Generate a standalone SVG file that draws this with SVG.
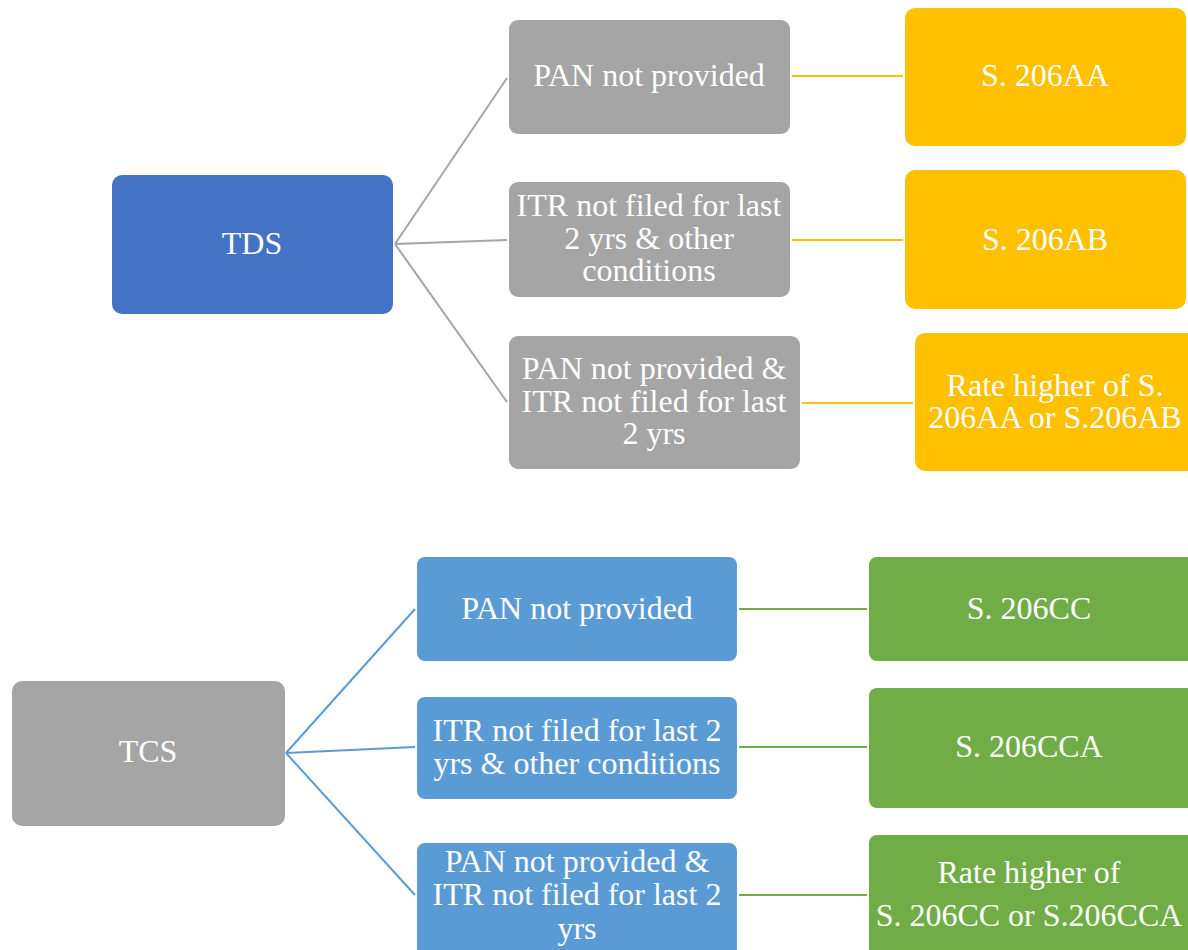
<svg xmlns="http://www.w3.org/2000/svg" width="1188" height="950" viewBox="0 0 1188 950">
<style>
text{font-family:"Liberation Serif","Times New Roman",serif;font-size:32px;fill:#fff;text-anchor:middle}
.gray{fill:#A5A5A5}.blue{fill:#4472C4}.lblue{fill:#5B9BD5}.yel{fill:#FFC000}.grn{fill:#70AD47}
.cg{stroke:#A5A5A5;stroke-width:2;fill:none}.cy{stroke:#FFC000;stroke-width:2;fill:none}
.cb{stroke:#5B9BD5;stroke-width:2;fill:none}.cgr{stroke:#70AD47;stroke-width:2;fill:none}
</style>
<rect width="1188" height="950" fill="#fff"/>
<g id="connectors">
<line class="cg" x1="395" y1="244" x2="507" y2="78"/>
<line class="cg" x1="395" y1="244" x2="507" y2="240"/>
<line class="cg" x1="395" y1="244" x2="507" y2="402"/>
<line class="cy" x1="792" y1="76" x2="903" y2="76"/>
<line class="cy" x1="792" y1="240" x2="903" y2="240"/>
<line class="cy" x1="802" y1="403" x2="913" y2="403"/>
<line class="cb" x1="286" y1="753" x2="415" y2="609"/>
<line class="cb" x1="286" y1="753" x2="415" y2="747"/>
<line class="cb" x1="286" y1="753" x2="415" y2="895"/>
<line class="cgr" x1="739" y1="609" x2="867" y2="609"/>
<line class="cgr" x1="739" y1="747" x2="867" y2="747"/>
<line class="cgr" x1="739" y1="895" x2="867" y2="895"/>
</g>
<g id="tds"><rect class="blue" x="112" y="175" width="281" height="139" rx="10"/><text x="252" y="254">TDS</text></g>
<g id="tds-pan"><rect class="gray" x="509" y="20" width="281" height="114" rx="9"/><text x="649" y="86">PAN not provided</text></g>
<g id="tds-itr"><rect class="gray" x="509" y="182" width="281" height="115" rx="9"/><text x="649" y="216">ITR not filed for last</text><text x="649" y="249">2 yrs &amp; other</text><text x="649" y="281">conditions</text></g>
<g id="tds-both"><rect class="gray" x="509" y="336" width="291" height="133" rx="9"/><text x="654" y="379">PAN not provided &amp;</text><text x="654" y="412">ITR not filed for last</text><text x="654" y="444">2 yrs</text></g>
<g id="s206aa"><rect class="yel" x="905" y="8" width="281" height="138" rx="10"/><text x="1045" y="86">S. 206AA</text></g>
<g id="s206ab"><rect class="yel" x="905" y="170" width="281" height="139" rx="10"/><text x="1045" y="250">S. 206AB</text></g>
<g id="rate-tds"><rect class="yel" x="915" y="333" width="285" height="138" rx="10"/><text x="1055" y="396">Rate higher of S.</text><text x="1055" y="428">206AA or S.206AB</text></g>
<g id="tcs"><rect class="gray" x="12" y="681" width="273" height="145" rx="10"/><text x="148" y="762">TCS</text></g>
<g id="tcs-pan"><rect class="lblue" x="417" y="557" width="320" height="104" rx="8"/><text x="577" y="619">PAN not provided</text></g>
<g id="tcs-itr"><rect class="lblue" x="417" y="697" width="320" height="102" rx="8"/><text x="577" y="741">ITR not filed for last 2</text><text x="577" y="774">yrs &amp; other conditions</text></g>
<g id="tcs-both"><rect class="lblue" x="417" y="843" width="320" height="115" rx="8"/><text x="577" y="872">PAN not provided &amp;</text><text x="577" y="905">ITR not filed for last 2</text><text x="577" y="939">yrs</text></g>
<g id="s206cc"><rect class="grn" x="869" y="557" width="330" height="104" rx="8"/><text x="1029" y="619">S. 206CC</text></g>
<g id="s206cca"><rect class="grn" x="869" y="688" width="330" height="120" rx="8"/><text x="1029" y="757">S. 206CCA</text></g>
<g id="rate-tcs"><rect class="grn" x="869" y="835" width="330" height="125" rx="8"/><text x="1029" y="883">Rate higher of</text><text x="1029" y="926">S. 206CC or S.206CCA</text></g>
</svg>
